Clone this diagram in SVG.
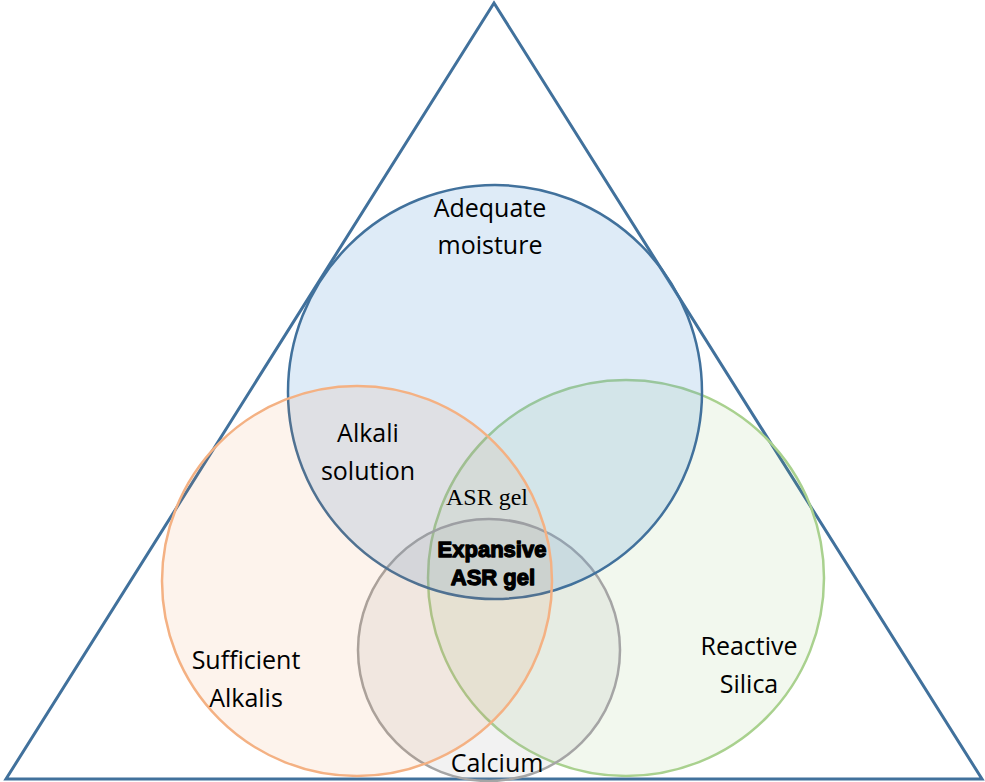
<svg xmlns="http://www.w3.org/2000/svg" width="985" height="782" viewBox="0 0 985 782">
  <style>
    .lbl { font-family: "Open Sans", "Noto Sans", "Liberation Sans", sans-serif; font-size: 25px; fill: #000; text-anchor: middle; }
    .serif { font-family: "Liberation Serif", "Times New Roman", serif; font-size: 24px; fill: #000; text-anchor: middle; }
    .heavy { font-family: "Liberation Sans", Arial, sans-serif; font-size: 22px; font-weight: bold; fill: #000; stroke: #000; stroke-width: 1.3; stroke-linejoin: round; text-anchor: middle; }
    .ring { stroke-width: 2.5; }
  </style>
  <rect width="985" height="782" fill="#ffffff"/>

  <!-- outer triangle -->
  <g id="triangle">
    <polygon points="494,3 6,779 982,779" fill="none" stroke="#41719C" stroke-width="3" stroke-linejoin="miter"/>
  </g>

  <!-- reactive silica -->
  <g id="silica">
    <circle class="ring" cx="626" cy="578" r="198" fill="#70AD47" fill-opacity="0.09" stroke="#A9D18E"/>
  </g>

  <!-- calcium -->
  <g id="calcium">
    <circle class="ring" cx="489" cy="650" r="131" fill="#A5A5A5" fill-opacity="0.14" stroke="#A5A5A5"/>
  </g>

  <!-- adequate moisture -->
  <g id="moisture">
    <circle class="ring" cx="495" cy="392" r="207" fill="#5B9BD5" fill-opacity="0.2" stroke="#41719C"/>
  </g>

  <!-- sufficient alkalis -->
  <g id="alkalis">
    <circle class="ring" cx="357" cy="581" r="195" fill="#ED7D31" fill-opacity="0.09" stroke="#F4B183"/>
  </g>

  <g id="connectors"></g>

  <!-- labels -->
  <g id="labels">
    <text class="lbl" x="490" y="217">Adequate</text>
    <text class="lbl" x="490" y="254">moisture</text>
    <text class="lbl" x="368" y="442">Alkali</text>
    <text class="lbl" x="368" y="480">solution</text>
    <text class="serif" x="487" y="505">ASR gel</text>
    <text class="heavy" x="492" y="557">Expansive</text>
    <text class="heavy" x="493" y="585">ASR gel</text>
    <text class="lbl" x="246" y="669">Sufficient</text>
    <text class="lbl" x="246" y="707">Alkalis</text>
    <text class="lbl" x="749" y="655">Reactive</text>
    <text class="lbl" x="749" y="693">Silica</text>
    <text class="lbl" x="497" y="772">Calcium</text>
  </g>
</svg>
